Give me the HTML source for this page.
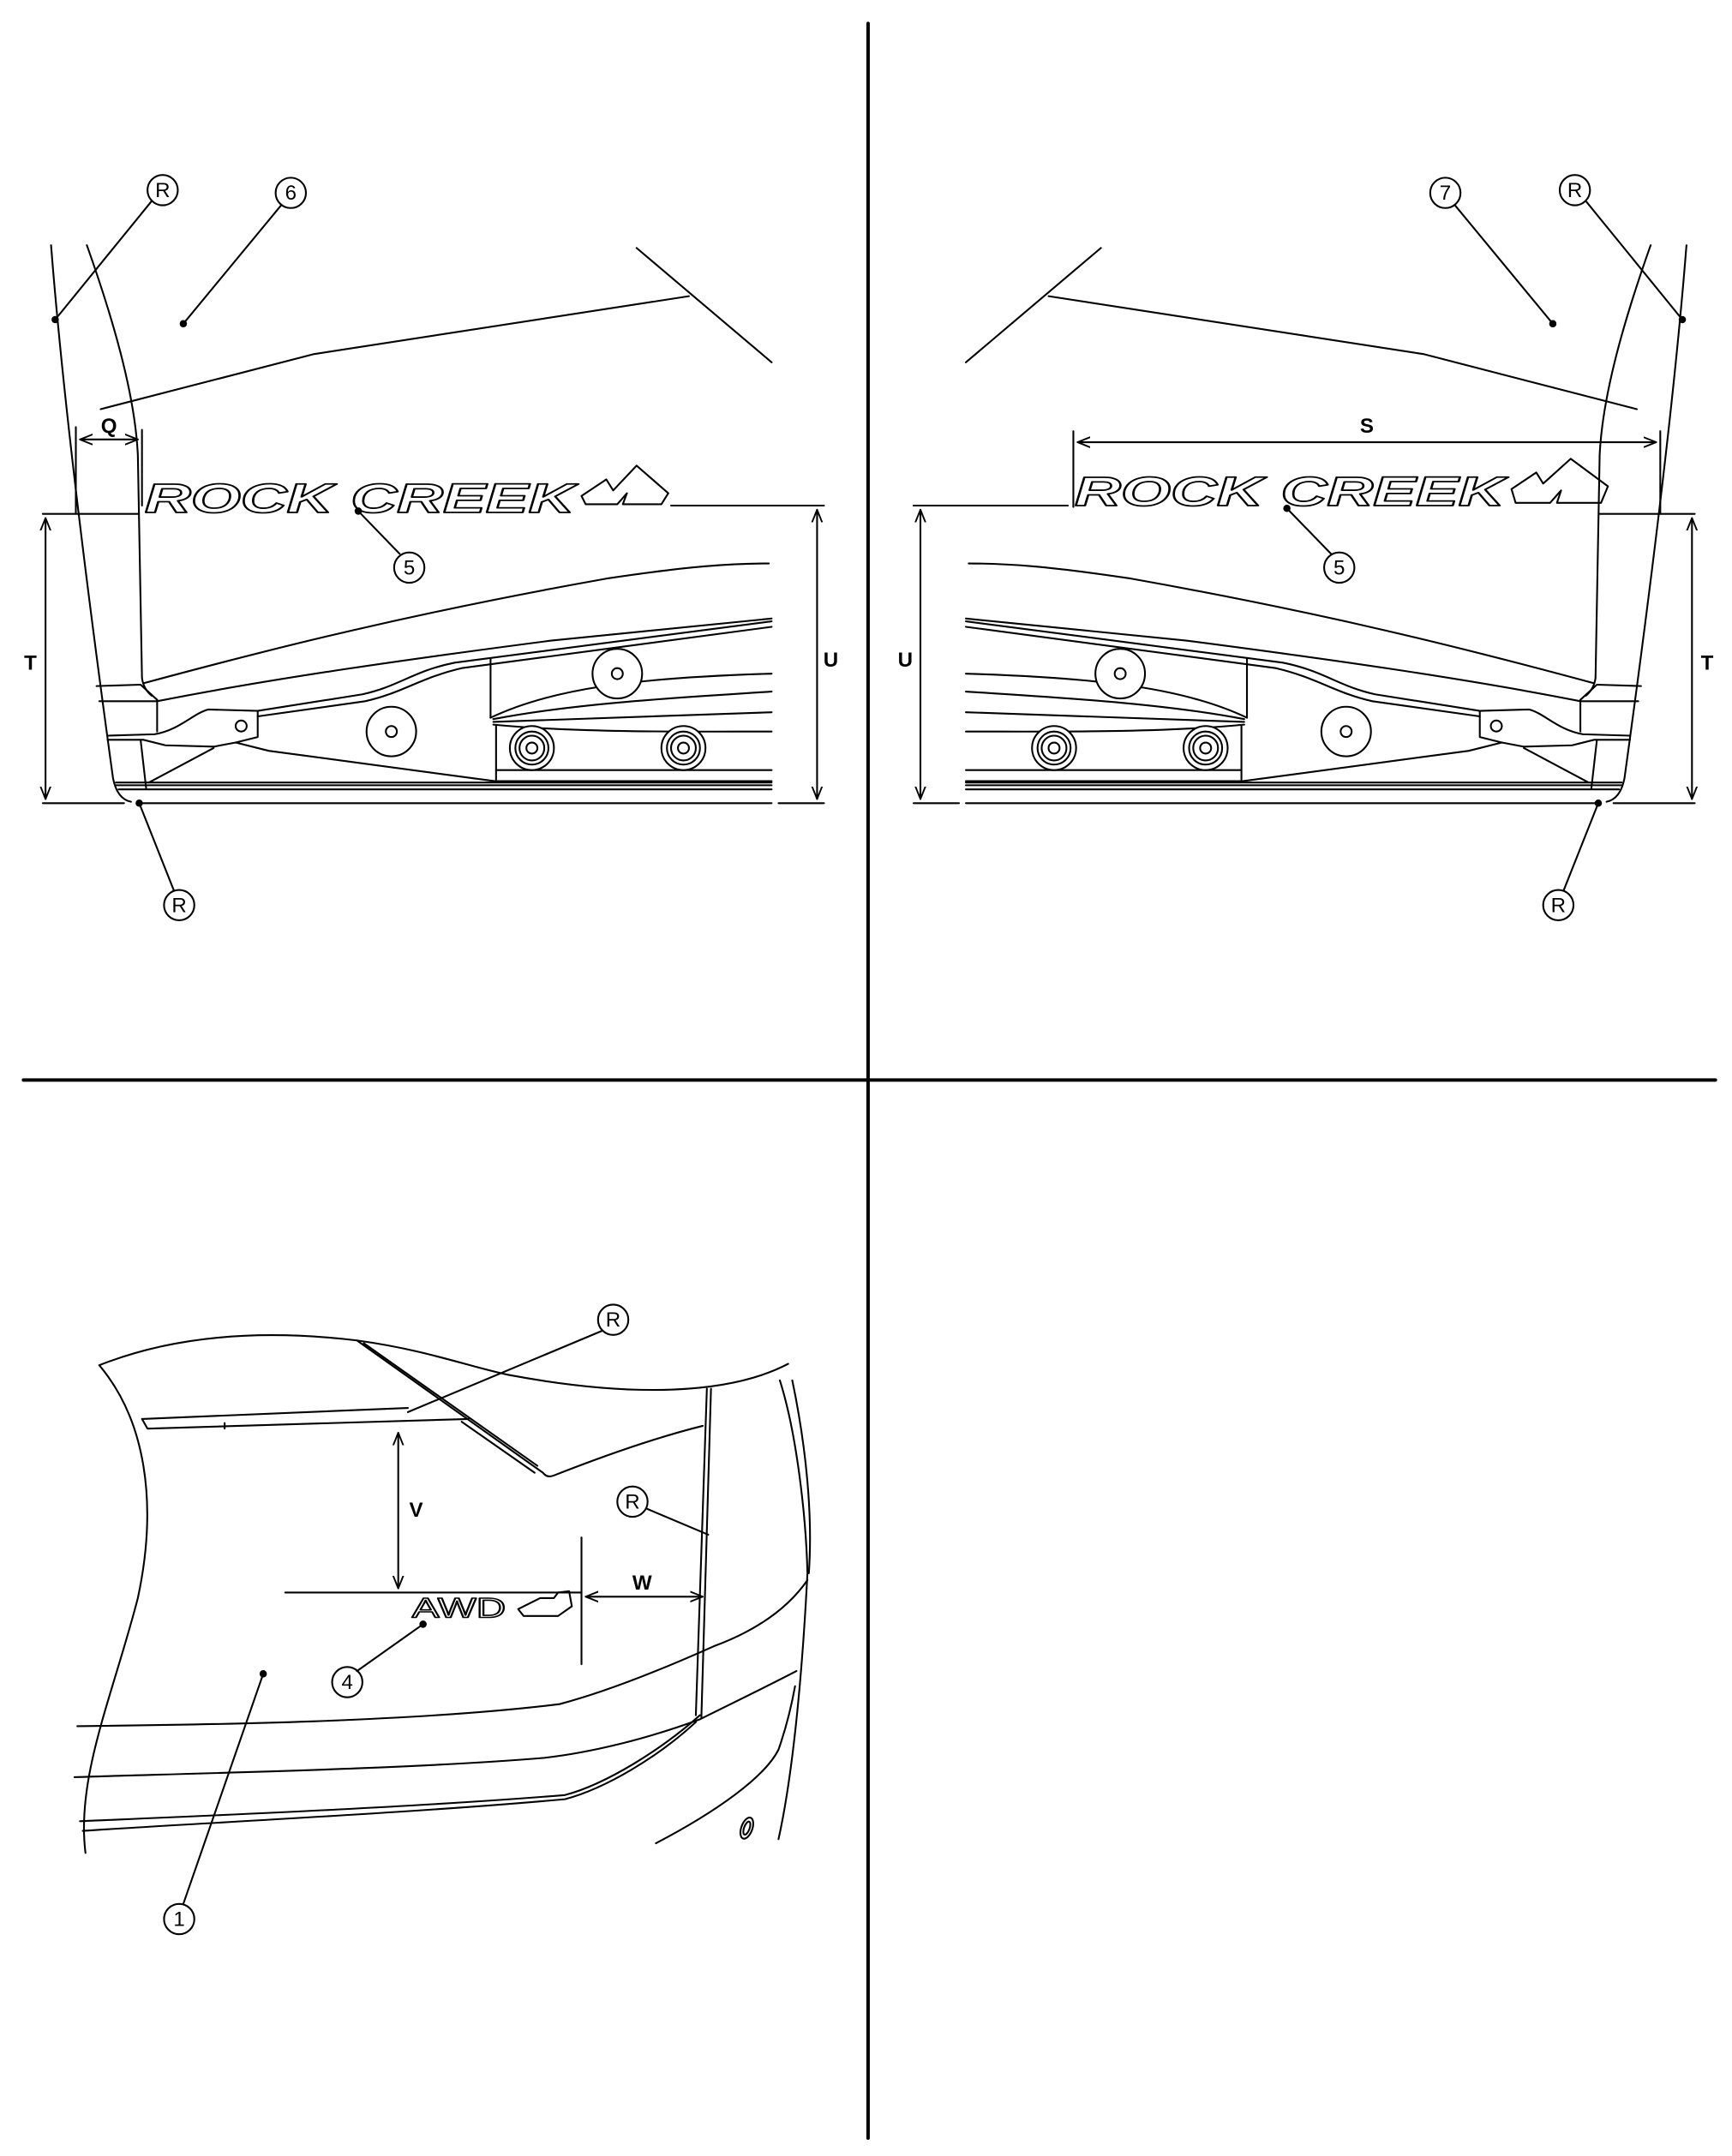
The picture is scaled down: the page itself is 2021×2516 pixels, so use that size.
<!DOCTYPE html>
<html><head><meta charset="utf-8"><style>
html,body{margin:0;padding:0;background:#fff}
svg{display:block}
text{font-family:"Liberation Sans",sans-serif}
</style></head><body>
<svg width="2021" height="2516" viewBox="0 0 1257 1565" xmlns="http://www.w3.org/2000/svg" fill="none" stroke="#000" stroke-width="1.3" stroke-linecap="round" stroke-linejoin="round">
<defs>
<marker id="a" viewBox="0 0 10 10" refX="10" refY="5" markerWidth="7" markerHeight="7" orient="auto-start-reverse"><path d="M0,1 L10,5 L0,9" fill="none" stroke="#000" stroke-width="1.3"/></marker>
<g id="sill">
 <!-- pillar -->
 <path d="M37,178 C45,280 62,420 82,565 Q85,580 95,582"/>
 <path d="M63,178 C85,240 98,290 100,330 L103,492 Q104,500 110,505"/>
 <path d="M73,297 L228,257 L500,215"/>
 <path d="M462,180 L560,263"/>
 <!-- sill -->
 <path d="M104,496 C200,470 300,445 440,420 C500,411 530,409 558,409"/>
 <path d="M70,498 L102,497 L114,508"/>
 <path d="M72,509 L114,509 C200,492 300,478 400,465 L560,449"/>
 <path d="M187,516 L263,504 C290,498 300,487 330,481 L560,451"/>
 <path d="M187,520 L265,509 C292,503 305,492 335,485 L560,455"/>
 <path d="M78,534 L112,533 C130,530 140,518 151,515 L187,516 L187,535 L171,539"/>
 <path d="M78,537 L104,537 L120,541 L155,542 L171,539 L195,545 L359,567 L560,567"/>
 <path d="M108,568 L155,543"/>
 <path d="M114,508 L114,531"/>
 <path d="M102,537 L106,572"/>
 <circle cx="175" cy="527" r="4"/>
 <path d="M356,478 L356,521"/>
 <path d="M360,527 L360,566"/>
 <path d="M356,521 C400,500 460,492 560,489"/>
 <path d="M358,522 C420,510 500,506 560,502"/>
 <path d="M358,524 L560,517"/>
 <path d="M358,526 C420,532 500,531 560,531"/>
 <path d="M360,559 L560,559"/>
 <path d="M84,568 L560,568 M84,570 L560,570 M86,573 L560,573"/>
 <path d="M31,583 L90,583 M102,583 L560,583 M565,583 L598,583"/>
 <path d="M31,373 L100,373"/>
 <path d="M487,367 L598,367"/>
 <ellipse cx="448" cy="489" rx="18" ry="18" fill="#fff"/><circle cx="448" cy="489" r="4"/>
 <ellipse cx="284" cy="531" rx="18" ry="18" fill="#fff"/><circle cx="284" cy="531" r="4"/>
 <circle cx="386" cy="543" r="16" fill="#fff"/><circle cx="386" cy="543" r="12"/><circle cx="386" cy="543" r="9"/><circle cx="386" cy="543" r="4"/>
 <circle cx="496" cy="543" r="16" fill="#fff"/><circle cx="496" cy="543" r="12"/><circle cx="496" cy="543" r="9"/><circle cx="496" cy="543" r="4"/>
 <!-- dims -->
 <path d="M33,376 L33,580" marker-start="url(#a)" marker-end="url(#a)"/>
 <path d="M593,370 L593,580" marker-start="url(#a)" marker-end="url(#a)"/>
 <!-- leaders -->
 <circle cx="40" cy="232" r="2" fill="#000"/><path d="M40,232 L110,146"/>
 <circle cx="101" cy="583" r="2" fill="#000"/><path d="M101,583 L126,646"/>
 <circle cx="118" cy="138" r="11"/>
 <circle cx="130" cy="657" r="11"/>
</g>
</defs>

<!-- dividers -->
<path d="M630,17 L630,1552" stroke-width="2.5"/>
<path d="M17,784 L1245,784" stroke-width="2.5"/>

<use href="#sill"/>
<use href="#sill" transform="translate(1261,0) scale(-1,1)"/>

<g fill="#000" stroke="none" font-size="15" text-anchor="middle">
 <text x="118" y="143">R</text>
 <text x="130" y="662">R</text>
 <text x="1143" y="143">R</text>
 <text x="1131" y="662">R</text>
 <text x="22" y="486" font-weight="bold">T</text>
 <text x="1239" y="486" font-weight="bold">T</text>
 <text x="603" y="484" font-weight="bold">U</text>
 <text x="657" y="484" font-weight="bold">U</text>
 <text x="79" y="314" font-weight="bold">Q</text>
 <text x="992" y="314" font-weight="bold">S</text>
</g>

<!-- left labels -->
<circle cx="211" cy="140" r="11"/><text x="211" y="145" font-size="15" fill="#000" stroke="none" text-anchor="middle">6</text>
<circle cx="133" cy="235" r="2" fill="#000"/><path d="M133,235 L204,149"/>
<path d="M55,310 L55,372 M103,312 L103,367"/>
<path d="M58,319 L100,319" marker-start="url(#a)" marker-end="url(#a)"/>
<text x="105" y="372" font-size="30" font-weight="bold" font-style="italic" fill="#fff" stroke="#000" stroke-width="1.1" textLength="312" lengthAdjust="spacingAndGlyphs">ROCK CREEK</text>
<path d="M422,360 L440,348 L445,356 L462,338 L485,358 L480,366 L452,366 L455,358 L448,366 L425,366 Z"/>
<circle cx="260" cy="371" r="2" fill="#000"/><path d="M260,371 L290,402"/>
<circle cx="297" cy="412" r="11"/><text x="297" y="417" font-size="15" fill="#000" stroke="none" text-anchor="middle">5</text>

<!-- right labels -->
<circle cx="1049" cy="140" r="11"/><text x="1049" y="145" font-size="15" fill="#000" stroke="none" text-anchor="middle">7</text>
<circle cx="1127" cy="235" r="2" fill="#000"/><path d="M1127,235 L1056,149"/>
<path d="M779,313 L779,368 M1205,313 L1205,373"/>
<path d="M782,321 L1202,321" marker-start="url(#a)" marker-end="url(#a)"/>
<path d="M665,367 L775,367"/>
<text x="780" y="367" font-size="30" font-weight="bold" font-style="italic" fill="#fff" stroke="#000" stroke-width="1.1" textLength="312" lengthAdjust="spacingAndGlyphs">ROCK CREEK</text>
<path d="M1097,355 L1115,343 L1120,351 L1140,333 L1167,353 L1162,365 L1130,365 L1133,356 L1125,365 L1100,365 Z"/>
<circle cx="934" cy="369" r="2" fill="#000"/><path d="M934,369 L966,402"/>
<circle cx="972" cy="412" r="11"/><text x="972" y="417" font-size="15" fill="#000" stroke="none" text-anchor="middle">5</text>

<!-- bottom panel -->
<path d="M72,991 Q150,960 259,973 C310,980 340,992 369,998 C460,1015 530,1012 572,990"/>
<path d="M72,991 C105,1030 115,1090 100,1160 C82,1230 55,1290 62,1345"/>
<path d="M103,1030 L296,1022 M107,1037 L340,1030 M103,1030 L107,1037 M163,1033 L163,1037"/>
<path d="M259,973 L394,1069 Q397,1073 402,1071 C430,1060 470,1045 510,1035"/>
<path d="M264,975 L390,1064"/>
<path d="M335,1032 L388,1069"/>
<path d="M513,1008 L505,1245 M516,1008 L509,1247"/>
<path d="M566,1002 C578,1040 585,1100 586,1142 C582,1220 575,1290 565,1335"/>
<path d="M575,1002 C585,1050 590,1100 587,1142"/>
<path d="M586,1147 C570,1170 545,1185 518,1195 C480,1212 440,1228 406,1237 C300,1250 150,1252 56,1253"/>
<path d="M578,1213 C555,1225 530,1237 508,1248 C470,1262 430,1272 395,1276 C300,1284 150,1287 54,1290"/>
<path d="M508,1245 C480,1270 440,1295 410,1303 C300,1312 150,1318 58,1322"/>
<path d="M505,1250 C478,1275 440,1298 410,1306 C300,1316 150,1323 60,1329"/>
<path d="M476,1338 C520,1315 555,1290 565,1270 C572,1250 575,1235 577,1224"/>
<ellipse cx="542" cy="1327" rx="4" ry="8" transform="rotate(20 542 1327)"/>
<ellipse cx="542" cy="1327" rx="2" ry="5" transform="rotate(20 542 1327)"/>
<path d="M207,1156 L422,1156"/>
<path d="M289,1040 L289,1153" marker-start="url(#a)" marker-end="url(#a)"/>
<path d="M422,1116 L422,1208"/>
<path d="M425,1159 L510,1159" marker-start="url(#a)" marker-end="url(#a)"/>
<g fill="#000" stroke="none" font-size="15" text-anchor="middle" font-weight="bold">
<text x="302" y="1101">V</text>
<text x="466" y="1154">W</text>
</g>
<text x="333" y="1174" font-size="20" fill="#fff" stroke="#000" stroke-width="1" text-anchor="middle" textLength="68" lengthAdjust="spacingAndGlyphs">AWD</text>
<path d="M376,1168 L392,1160 L402,1160 L405,1156 L413,1155 L415,1166 L405,1173 L380,1173 Z"/>
<circle cx="445" cy="958" r="11"/><text x="445" y="963" font-size="15" fill="#000" stroke="none" text-anchor="middle">R</text>
<path d="M437,966 L296,1025"/>
<circle cx="459" cy="1090" r="11"/><text x="459" y="1095" font-size="15" fill="#000" stroke="none" text-anchor="middle">R</text>
<path d="M469,1095 L514,1114"/>
<circle cx="307" cy="1179" r="2" fill="#000"/><path d="M307,1179 L259,1213"/>
<circle cx="252" cy="1221" r="11"/><text x="252" y="1226" font-size="15" fill="#000" stroke="none" text-anchor="middle">4</text>
<circle cx="191" cy="1215" r="2" fill="#000"/><path d="M191,1215 L133,1382"/>
<circle cx="130" cy="1393" r="11"/><text x="130" y="1398" font-size="15" fill="#000" stroke="none" text-anchor="middle">1</text>
</svg>
</body></html>
